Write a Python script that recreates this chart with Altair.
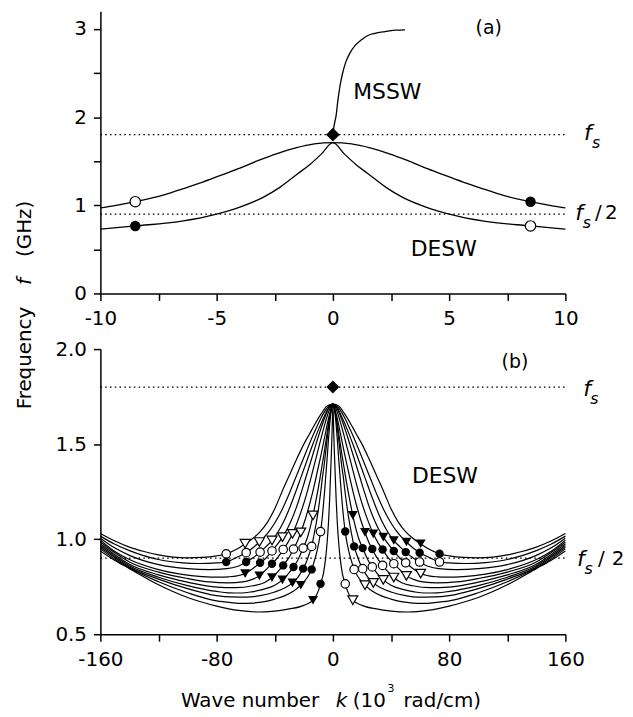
import altair as alt
import pandas as pd

FONT = "DejaVu Sans"

# ---------------- data ----------------
# Panel (b): DESW dispersion curves, k <= 0 half (figure is mirror symmetric in k)
B_C1 = [(-160, 1.030), (-150, 0.990), (-140, 0.958), (-130, 0.935), (-120, 0.917), (-110, 0.906),
        (-100, 0.902), (-90, 0.904), (-80, 0.912), (-73.4, 0.923), (-66, 0.948), (-60.4, 0.976),
        (-55, 1.005), (-50, 1.040), (-45, 1.090), (-40, 1.160), (-35, 1.250), (-30, 1.335),
        (-25, 1.420), (-20, 1.500), (-16, 1.555), (-12, 1.610), (-8, 1.660), (-4, 1.700), (0, 1.71)]
B_C2 = [(-160, 1.016), (-150, 0.973), (-140, 0.940), (-120, 0.893), (-105, 0.877), (-92, 0.872),
        (-80, 0.875), (-73.4, 0.880), (-66, 0.905), (-59.7, 0.929), (-55, 0.955), (-50.6, 0.985),
        (-45, 1.030), (-40, 1.085), (-35, 1.155), (-30, 1.240), (-25, 1.335), (-20, 1.430),
        (-16, 1.505), (-12, 1.575), (-8, 1.640), (-4, 1.690), (0, 1.71)]
B_C3 = [(-160, 1.005), (-150, 0.953), (-140, 0.915), (-120, 0.866), (-100, 0.845), (-85, 0.840),
        (-73, 0.845), (-66, 0.856), (-59.7, 0.880), (-55, 0.902), (-50.1, 0.932), (-46, 0.961),
        (-41.9, 0.993), (-38, 1.035), (-34, 1.090), (-30, 1.160), (-26, 1.240), (-22, 1.325),
        (-18, 1.410), (-14, 1.495), (-10, 1.575), (-6, 1.645), (-3, 1.690), (0, 1.71)]
B_C4 = [(-160, 0.995), (-150, 0.935), (-140, 0.893), (-120, 0.840), (-105, 0.816), (-90, 0.803),
        (-78, 0.800), (-72, 0.802), (-66, 0.807), (-60.4, 0.819), (-55, 0.846), (-50.1, 0.876),
        (-46, 0.901), (-41.9, 0.938), (-38, 0.975), (-34.7, 1.011), (-31, 1.060), (-28, 1.110),
        (-25, 1.170), (-22, 1.240), (-19, 1.315), (-16, 1.390), (-13, 1.465), (-10, 1.540),
        (-7, 1.610), (-4, 1.670), (-2, 1.700), (0, 1.71)]
B_C5 = [(-160, 0.985), (-150, 0.928), (-140, 0.880), (-120, 0.827), (-100, 0.793), (-85, 0.775),
        (-72, 0.770), (-62, 0.775), (-56, 0.787), (-50.6, 0.807), (-46, 0.840), (-41.9, 0.871),
        (-38, 0.903), (-34.2, 0.946), (-31, 0.982), (-27.8, 1.028), (-24, 1.100), (-21, 1.165),
        (-18, 1.240), (-15, 1.325), (-12.5, 1.400), (-10, 1.475), (-7.5, 1.550), (-5, 1.620),
        (-2.5, 1.680), (0, 1.71)]
B_C6 = [(-160, 0.976), (-150, 0.918), (-140, 0.868), (-120, 0.812), (-100, 0.774), (-80, 0.748),
        (-67, 0.745), (-55, 0.755), (-47, 0.772), (-41.9, 0.798), (-38, 0.828), (-34.2, 0.862),
        (-30.5, 0.900), (-27.1, 0.948), (-24.5, 0.988), (-22.1, 1.036), (-19, 1.105), (-16, 1.185),
        (-14, 1.245), (-12, 1.310), (-10, 1.380), (-8, 1.450), (-6, 1.525), (-4, 1.600),
        (-2, 1.665), (0, 1.71)]
B_C7 = [(-160, 0.967), (-150, 0.910), (-140, 0.860), (-120, 0.800), (-100, 0.756), (-80, 0.725),
        (-72, 0.718), (-63, 0.717), (-56, 0.723), (-48, 0.736), (-40, 0.758), (-34.7, 0.786),
        (-31, 0.815), (-27.1, 0.854), (-24, 0.892), (-20.5, 0.953), (-18, 0.998), (-16, 1.050),
        (-13.7, 1.125), (-12, 1.190), (-10.5, 1.250), (-9, 1.315), (-7.5, 1.385), (-6, 1.455),
        (-4.5, 1.530), (-3, 1.610), (-1.5, 1.675), (0, 1.71)]
B_C8 = [(-160, 0.958), (-150, 0.903), (-140, 0.853), (-120, 0.790), (-100, 0.740), (-80, 0.703),
        (-70, 0.696), (-59, 0.695), (-50, 0.703), (-40, 0.722), (-33, 0.744), (-27.8, 0.770),
        (-24, 0.800), (-20.5, 0.845), (-18.5, 0.876), (-16.5, 0.918), (-14.6, 0.962), (-13, 1.022),
        (-11.5, 1.083), (-10, 1.155), (-8.5, 1.240), (-7.2, 1.325), (-6, 1.390), (-4.8, 1.470),
        (-3.6, 1.550), (-2.4, 1.625), (-1.2, 1.678), (0, 1.71)]
B_C9 = [(-160, 0.949), (-150, 0.895), (-140, 0.848), (-120, 0.776), (-100, 0.718), (-80, 0.675),
        (-70, 0.666), (-62, 0.662), (-55, 0.664), (-48, 0.670), (-40, 0.685), (-33, 0.703),
        (-27, 0.727), (-22.1, 0.758), (-17.5, 0.800), (-14.6, 0.841), (-12.7, 0.887), (-11, 0.935),
        (-10, 0.970), (-9.5, 0.990), (-8.5, 1.040), (-7.3, 1.115), (-6.35, 1.195), (-5.6, 1.262),
        (-4.8, 1.342), (-4, 1.421), (-3.2, 1.508), (-2.4, 1.586), (-1.6, 1.650), (-0.8, 1.695),
        (0, 1.71)]
B_C10 = [(-160, 0.938), (-150, 0.888), (-140, 0.845), (-120, 0.760), (-100, 0.693), (-80, 0.648),
         (-65, 0.625), (-52, 0.617), (-40, 0.622), (-30, 0.633), (-20, 0.652), (-13.7, 0.679),
         (-10, 0.728), (-8.5, 0.765), (-6.5, 0.820), (-5, 0.900), (-4, 0.980), (-3, 1.090),
         (-2.3, 1.200), (-1.5, 1.360), (-1, 1.460), (-0.5, 1.580), (0, 1.71)]
B_CURVES = [B_C1, B_C2, B_C3, B_C4, B_C5, B_C6, B_C7, B_C8, B_C9, B_C10]

# Panel (b) markers, |k| and f.  "UP" markers: open on the left, filled on the right.
TRI_K = [60.4, 50.6, 41.9, 34.7, 27.8, 22.1, 13.7]
TRI_UP_F = [0.976, 0.985, 0.993, 1.011, 1.028, 1.036, 1.125]
TRI_LO_F = [0.819, 0.807, 0.798, 0.786, 0.770, 0.758, 0.679]
CIR_K = [73.4, 59.7, 50.1, 41.9, 34.2, 27.1, 20.5, 14.6, 8.5]
CIR_UP_F = [0.923, 0.929, 0.932, 0.938, 0.946, 0.948, 0.953, 0.962, 1.040]
CIR_LO_F = [0.880, 0.880, 0.876, 0.871, 0.862, 0.854, 0.845, 0.841, 0.765]

# Panel (a): the two DESW branches are curves 9 and 10 seen at |k| <= 10
A_CURVES = [B_C9, B_C10]
A_MARK_K = [8.5]
A_UP_F = [1.040]
A_LO_F = [0.765]
MSSW_K = [0, 0.05, 0.14, 0.22, 0.31, 0.42, 0.55, 0.72, 0.95, 1.2, 1.46, 1.8, 2.24, 2.7, 3.1]
MSSW_F = [1.80, 1.90, 2.02, 2.20, 2.36, 2.50, 2.62, 2.72, 2.81, 2.87, 2.92, 2.95, 2.97, 2.985, 2.99]

FS = 1.8
FS_HALF = 0.9

# ---------------- helpers ----------------
def curves_df(curves, kmax):
    rows = []
    for i, pts in enumerate(curves):
        for k, f in pts:
            if abs(k) <= kmax:
                rows.append({"id": i, "k": k, "f": f})
                if k != 0:
                    rows.append({"id": i, "k": -k, "f": f})
    return pd.DataFrame(rows)


def markers_df(ks, up, lo):
    rows = []
    for k, fu, fl in zip(ks, up, lo):
        rows.append({"k": -k, "f": fu, "type": "open"})
        rows.append({"k": -k, "f": fl, "type": "filled"})
        rows.append({"k": k, "f": fu, "type": "filled"})
        rows.append({"k": k, "f": fl, "type": "open"})
    return pd.DataFrame(rows)


def panel(width, height, xdom, ydom, xaxis, yaxis, curves, mk_sets, extra_lines, texts,
          kmax, diamond_size, curve_width, pix_texts):
    xs = alt.Scale(domain=xdom, nice=False, zero=False)
    ys = alt.Scale(domain=ydom, nice=False, zero=False)
    X = alt.X("k:Q", scale=xs, axis=xaxis)
    Y = alt.Y("f:Q", scale=ys, axis=yaxis)

    layers = []
    rules = pd.DataFrame({"k": [xdom[0]] * 2, "k2": [xdom[1]] * 2, "f": [FS, FS_HALF]})
    layers.append(alt.Chart(rules).mark_rule(color="black", strokeWidth=1.3, strokeDash=[1.6, 3.2])
                  .encode(x=X, x2="k2:Q", y=Y))
    layers.append(alt.Chart(curves_df(curves, kmax)).mark_line(
        color="black", strokeWidth=curve_width, interpolate="monotone")
        .encode(x=X, y=Y, detail="id:N", order="k:Q"))
    for df in extra_lines:
        layers.append(alt.Chart(df).mark_line(color="black", strokeWidth=1.3, interpolate="monotone")
                      .encode(x=X, y=Y, order="k:Q"))
    for df, shape, size in mk_sets:
        op = df[df["type"] == "open"]
        fi = df[df["type"] == "filled"]
        layers.append(alt.Chart(op).mark_point(shape=shape, size=size, filled=True, fill="white",
                                               stroke="black", strokeWidth=1.2, opacity=1)
                      .encode(x=X, y=Y))
        layers.append(alt.Chart(fi).mark_point(shape=shape, size=size, filled=True, color="black",
                                               opacity=1).encode(x=X, y=Y))
    layers.append(alt.Chart(pd.DataFrame({"k": [0], "f": [FS]})).mark_point(
        shape="diamond", size=diamond_size, filled=True, color="black", opacity=1)
        .encode(x=X, y=Y))
    for t in texts:
        k, f, s, size, style = t
        layers.append(alt.Chart(pd.DataFrame({"k": [k], "f": [f], "t": [s]})).mark_text(
            font=FONT, fontSize=size, fontStyle=style, color="black", align="center",
            baseline="middle").encode(x=X, y=Y, text="t:N"))
    for t in pix_texts:
        px, py, s, size, style, align, baseline, angle = t
        layers.append(alt.Chart(pd.DataFrame({"t": [s]})).mark_text(
            font=FONT, fontSize=size, fontStyle=style, color="black", align=align,
            baseline=baseline, angle=angle).encode(x=alt.value(px), y=alt.value(py), text="t:N"))
    return alt.layer(*layers).properties(width=width, height=height)


common_axis = dict(title=None, labelFlush=False, labelOverlap=False, labelFont=FONT,
                   labelFontSize=20, labelColor="black", domainColor="black", domainWidth=1.5,
                   tickColor="black", tickWidth=1.5, tickSize=7, grid=False)

ax_xa = alt.Axis(values=[-10, -7.5, -5, -2.5, 0, 2.5, 5, 7.5, 10],
                 labelExpr="abs(datum.value) % 5 == 0 ? '' + datum.value : ''",
                 labelPadding=8, **common_axis)
ax_ya = alt.Axis(values=[0, 0.5, 1, 1.5, 2, 2.5, 3],
                 labelExpr="datum.value % 1 == 0 ? '' + datum.value : ''",
                 labelPadding=7, **common_axis)
ax_xb = alt.Axis(values=[-160, -120, -80, -40, 0, 40, 80, 120, 160],
                 labelExpr="datum.value % 80 == 0 ? '' + datum.value : ''",
                 labelPadding=8, **common_axis)
ax_yb = alt.Axis(values=[0.5, 1.0, 1.5, 2.0], format=".1f", labelPadding=7, **common_axis)

mssw = pd.DataFrame({"k": MSSW_K, "f": MSSW_F})

texts_a = [
    (6.7, 3.01, "(a)", 19, "normal"),
    (2.34, 2.28, "MSSW", 22, "normal"),
    (4.77, 0.505, "DESW", 22, "normal"),
    (10.97, 1.817, "f", 22, "italic"),
    (11.32, 1.70, "s", 16, "italic"),
    (10.59, 0.916, "f", 22, "italic"),
    (10.92, 0.80, "s", 16, "italic"),
    (11.42, 0.916, "/", 20, "normal"),
    (11.98, 0.916, "2", 20, "normal"),
]
texts_b = [
    (125.3, 1.934, "(b)", 19, "normal"),
    (77.1, 1.332, "DESW", 22, "normal"),
    (174.9, 1.79, "f", 22, "italic"),
    (180.0, 1.737, "s", 16, "italic"),
    (170.7, 0.896, "f", 22, "italic"),
    (176.0, 0.843, "s", 16, "italic"),
    (184.8, 0.896, "/", 20, "normal"),
    (196.2, 0.896, "2", 20, "normal"),
]
pix_b = [
    (81, 360, "Wave number", 20, "normal", "left", "alphabetic", 0),
    (237, 360, "k", 20, "italic", "left", "alphabetic", 0),
    (254, 360, "(10", 20, "normal", "left", "alphabetic", 0),
    (289, 345, "3", 11, "normal", "left", "alphabetic", 0),
    (305, 360, "rad/cm)", 20, "normal", "left", "alphabetic", 0),
    (-76, 9, "Frequency", 20, "normal", "center", "middle", 270),
    (-76, -68, "f", 20, "italic", "center", "middle", 270),
    (-76, -121, "(GHz)", 20, "normal", "center", "middle", 270),
]

pa = panel(468, 284, [-10, 10], [0, 3.2], ax_xa, ax_ya, A_CURVES,
           [(markers_df(A_MARK_K, A_UP_F, A_LO_F), "circle", 110)], [mssw], texts_a,
           10, 190, 1.3, [])
pb = panel(468, 287, [-160, 160], [0.5, 2.0], ax_xb, ax_yb, B_CURVES,
           [(markers_df(CIR_K, CIR_UP_F, CIR_LO_F), "circle", 72),
            (markers_df(TRI_K, TRI_UP_F, TRI_LO_F), "triangle-down", 100)], [], texts_b,
           160, 170, 1.2, pix_b)

chart = alt.vconcat(pa, pb, spacing=56, bounds="flush").properties(
    padding={"left": 6, "top": 1, "right": 0, "bottom": 0}
).configure_view(stroke=None)

chart.save("out.html", embed_options={"renderer": "svg", "actions": False})
